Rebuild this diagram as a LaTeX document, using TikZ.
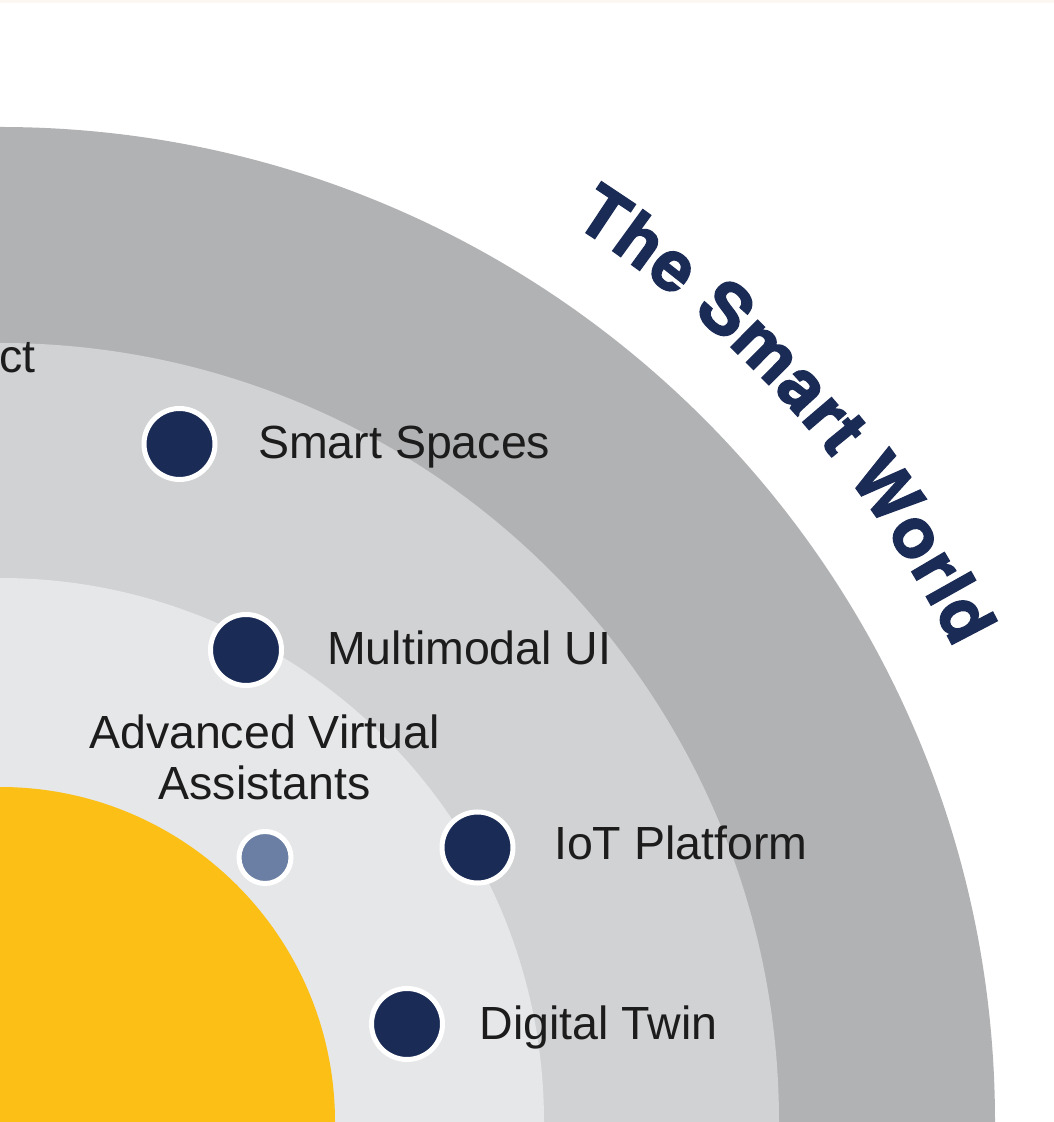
\documentclass[tikz,border=0pt]{standalone}
\usepackage{fontspec}
\setmainfont{texgyreheros-bold.otf}[FakeBold=2]
\newfontfamily\regfont{Liberation Sans}
\usetikzlibrary{decorations.text}
\definecolor{ringA}{HTML}{B1B2B4}
\definecolor{ringB}{HTML}{D1D2D4}
\definecolor{ringC}{HTML}{E6E7E9}
\definecolor{core}{HTML}{FBBF15}
\definecolor{navy}{HTML}{1A2B56}
\definecolor{slate}{HTML}{6A7FA3}
\definecolor{labelc}{HTML}{1C1C1C}
\definecolor{strip}{HTML}{FCF7F0}
\begin{document}
\begin{tikzpicture}[x=1pt,y=1pt,
  lbl/.style={inner sep=0pt, text=labelc, font=\regfont\fontsize{46.5}{51}\selectfont},
  bigdot/.style={circle, inner sep=0pt, minimum size=71pt, fill=navy, draw=white, line width=5pt},
  smalldot/.style={circle, inner sep=0pt, minimum size=52pt, fill=slate, draw=white, line width=5pt}]
\useasboundingbox (0,0) rectangle (1054,1122);
\clip (0,0) rectangle (1054,1122);
\fill[white] (0,0) rectangle (1054,1122);
\fill[strip] (0,1119) rectangle (1054,1122);
% rings
\coordinate (ctr) at (0,0);
\fill[ringA] (ctr) circle[radius=995pt];
\fill[ringB] (ctr) circle[radius=779pt];
\fill[ringC] (ctr) circle[radius=544pt];
\fill[core]  (ctr) circle[radius=335pt];
% curved title
\path[decorate, decoration={text along path, text align={fit to path},
  text={|\fontsize{70}{70}\selectfont\color{navy}|The Smart World}}]
  (57.5:1065pt) arc[start angle=57.5, end angle=26.4, radius=1065pt];
% partial label at left edge
\node[lbl, anchor=base east] (ct) at (35.5,749) {ct};
% dots
\node[bigdot] (ss) at (179.5,678) {};
\node[bigdot] (mm) at (246,472) {};
\node[bigdot] (iot) at (477.5,274.5) {};
\node[bigdot] (dt) at (407,98) {};
\node[smalldot] (ava) at (265,264.5) {};
% labels
\node[lbl, anchor=base west] (ssl) at (258,663.5) {Smart Spaces};
\node[lbl, anchor=base west] (mml) at (327,457) {Multimodal UI};
\node[lbl, anchor=base west] (iotl) at (554,262.7) {IoT Platform};
\node[lbl, anchor=base west] (dtl) at (479.5,82.7) {Digital Twin};
\node[lbl, anchor=base, align=center] (aval) at (264.5,322.7) {Advanced Virtual\\Assistants};
\end{tikzpicture}
\end{document}
